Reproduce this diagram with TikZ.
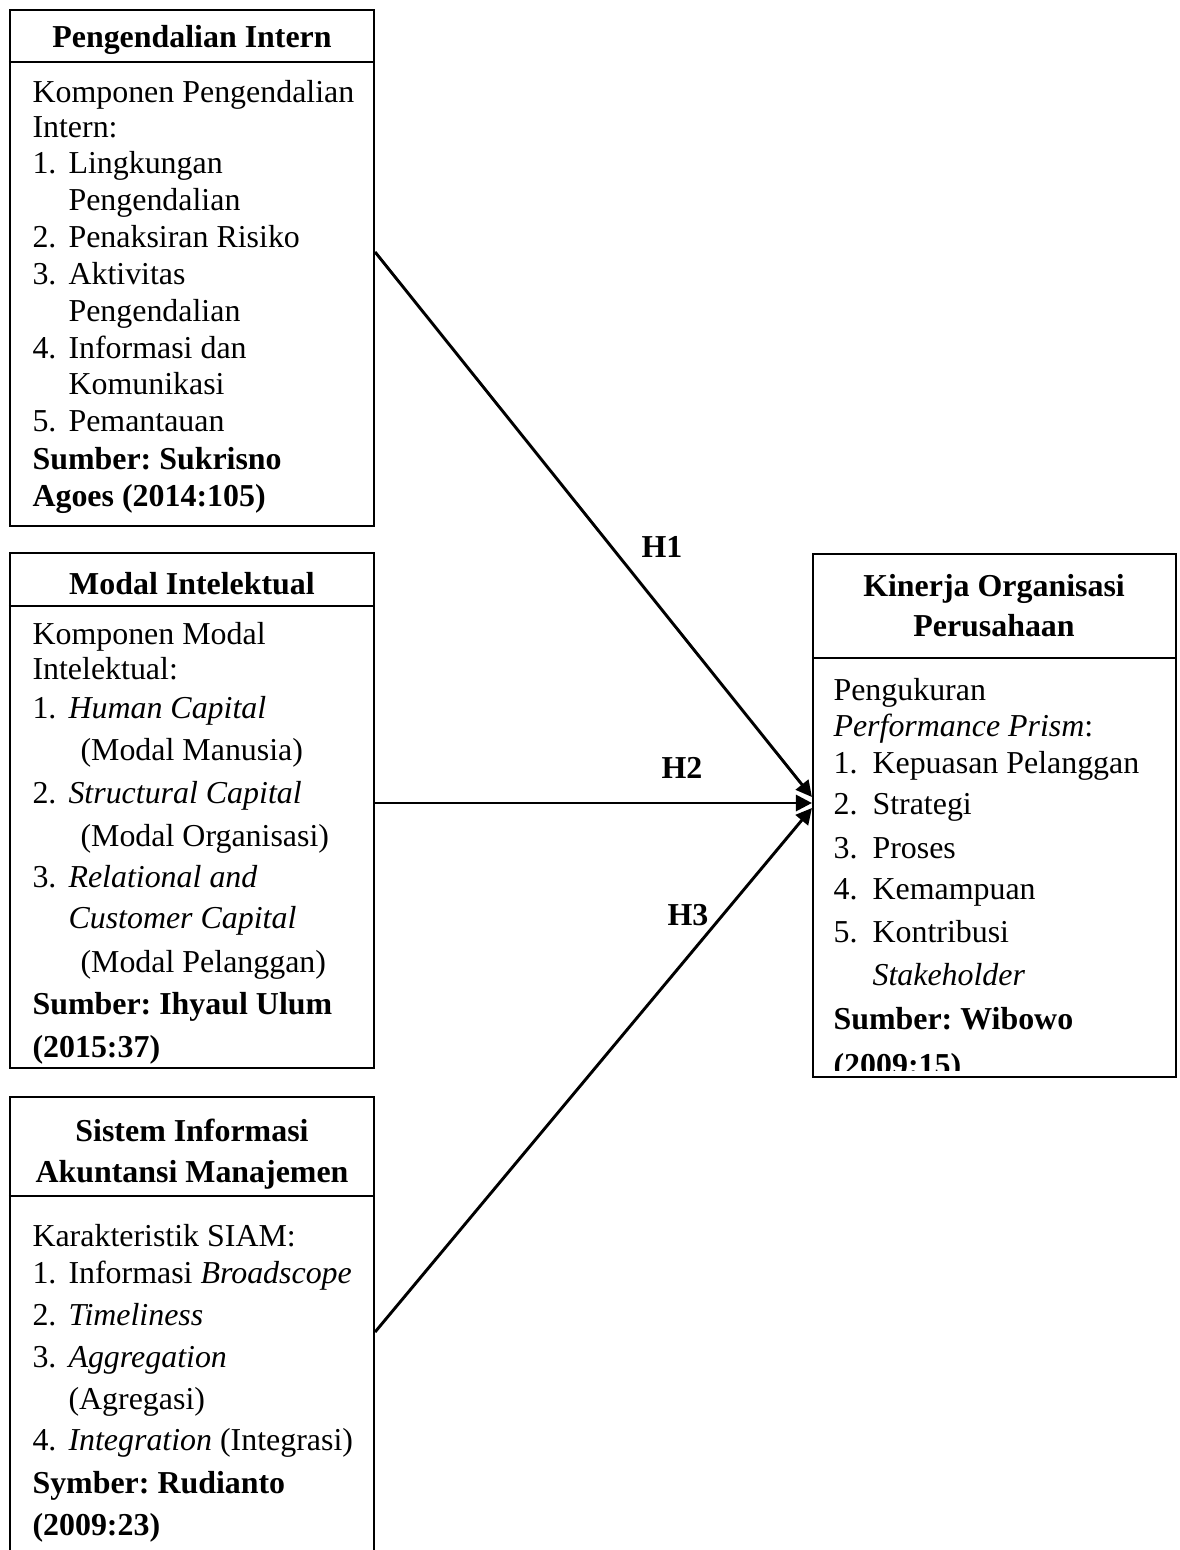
\documentclass[tikz,border=0pt]{standalone}
\usepackage{fontspec}
\setmainfont{Liberation Serif}
\frenchspacing
\usetikzlibrary{arrows.meta,fit}
\newcommand\TL[4]{\node[txt] (#1) at (#2,#3) {#4};}
\newcommand\HL[4]{\node[hdr] (#1) at (#2,#3) {#4};}
\begin{document}
\begin{tikzpicture}[x=0.376pt,y=-0.376pt,
  boxframe/.style={draw, line width=0.8pt, inner sep=0pt},
  txt/.style={anchor=base west, inner sep=0pt, font=\fontsize{12}{14}\selectfont},
  hdr/.style={anchor=base, inner sep=0pt, font=\fontsize{12}{14}\selectfont\bfseries},
  hlab/.style={anchor=center, inner sep=0pt, font=\fontsize{12}{14}\selectfont\bfseries},
  arr/.style={-{Triangle[length=6pt,width=6pt]}, line width=1.1pt},
  divider/.style={line width=0.8pt}]
\useasboundingbox (0,0) rectangle (1179,1550);
% boxes
\node[boxframe, fit={(10,10) (374,526)}] (b1) {};
\node[boxframe, fit={(10,553) (374,1068)}] (b2) {};
\node[boxframe, fit={(10,1097) (374,1580)}] (b3) {};
\node[boxframe, fit={(813,554) (1176,1077)}] (k) {};
\draw[divider] (b1.west |- 0,62) -- (b1.east |- 0,62);
\draw[divider] (b2.west |- 0,606) -- (b2.east |- 0,606);
\draw[divider] (b3.west |- 0,1196) -- (b3.east |- 0,1196);
\draw[divider] (k.west |- 0,658) -- (k.east |- 0,658);
% box 1
\HL{h1}{192}{48}{Pengendalian Intern}
\TL{a1}{32}{103}{Komponen Pengendalian}
\TL{a2}{32}{138}{Intern:}
\TL{a3n}{32}{174}{1.}\TL{a3}{68}{174}{Lingkungan}
\TL{a4}{68}{211}{Pengendalian}
\TL{a5n}{32}{248}{2.}\TL{a5}{68}{248}{Penaksiran Risiko}
\TL{a6n}{32}{285}{3.}\TL{a6}{68}{285}{Aktivitas}
\TL{a7}{68}{322}{Pengendalian}
\TL{a8n}{32}{359}{4.}\TL{a8}{68}{359}{Informasi dan}
\TL{a9}{68}{395}{Komunikasi}
\TL{a10n}{32}{432}{5.}\TL{a10}{68}{432}{Pemantauan}
\TL{a11}{32}{470}{\bfseries Sumber: Sukrisno}
\TL{a12}{32}{507}{\bfseries Agoes (2014:105)}
% box 2
\HL{h2}{192}{594}{Modal Intelektual}
\TL{m1}{32}{644}{Komponen Modal}
\TL{m2}{32}{679}{Intelektual:}
\TL{m3n}{32}{718}{1.}\TL{m3}{68}{718}{\itshape Human Capital}
\TL{m4}{80}{760}{(Modal Manusia)}
\TL{m5n}{32}{803}{2.}\TL{m5}{68}{803}{\itshape Structural Capital}
\TL{m6}{80}{846}{(Modal Organisasi)}
\TL{m7n}{32}{887}{3.}\TL{m7}{68}{887}{\itshape Relational and}
\TL{m8}{68}{928}{\itshape Customer Capital}
\TL{m9}{80}{972}{(Modal Pelanggan)}
\TL{m10}{32}{1014}{\bfseries Sumber: Ihyaul Ulum}
\TL{m11}{32}{1057}{\bfseries (2015:37)}
% box 3
\HL{h3a}{192}{1141}{Sistem Informasi}
\HL{h3b}{192}{1182}{Akuntansi Manajemen}
\TL{s1}{32}{1246}{Karakteristik SIAM:}
\TL{s2n}{32}{1283}{1.}\TL{s2}{68}{1283}{Informasi \textit{Broadscope}}
\TL{s3n}{32}{1325}{2.}\TL{s3}{68}{1325}{\itshape Timeliness}
\TL{s4n}{32}{1367}{3.}\TL{s4}{68}{1367}{\itshape Aggregation}
\TL{s5}{68}{1409}{(Agregasi)}
\TL{s6n}{32}{1450}{4.}\TL{s6}{68}{1450}{\textit{Integration} (Integrasi)}
\TL{s7}{32}{1493}{\bfseries Symber: Rudianto}
\TL{s8}{32}{1535}{\bfseries (2009:23)}
% right box
\HL{hk1}{994}{596}{Kinerja Organisasi}
\HL{hk2}{994}{636}{Perusahaan}
\TL{k1}{833}{700}{Pengukuran}
\TL{k2}{833}{736}{\textit{Performance Prism}:}
\TL{k3n}{833}{773}{1.}\TL{k3}{872}{773}{Kepuasan Pelanggan}
\TL{k4n}{833}{814}{2.}\TL{k4}{872}{814}{Strategi}
\TL{k5n}{833}{858}{3.}\TL{k5}{872}{858}{Proses}
\TL{k6n}{833}{899}{4.}\TL{k6}{872}{899}{Kemampuan}
\TL{k7n}{833}{942}{5.}\TL{k7}{872}{942}{Kontribusi}
\TL{k8}{872}{985}{\itshape Stakeholder}
\TL{k9}{833}{1029}{\bfseries Sumber: Wibowo}
\begin{scope}
\clip (813,554) rectangle (1176,1070);
\TL{k10}{833}{1075}{\bfseries (2009:15)}
\end{scope}
% arrows
\draw[arr] (b1.east |- 0,252) -- (k.west |- 0,797);
\draw[arr] (b2.east |- 0,803) -- (k.west |- 0,803);
\draw[arr] (b3.east |- 0,1332) -- (k.west |- 0,808);
\node[hlab] (H1) at (662,547) {H1};
\node[hlab] (H2) at (682,768) {H2};
\node[hlab] (H3) at (688,915) {H3};
\end{tikzpicture}
\end{document}
